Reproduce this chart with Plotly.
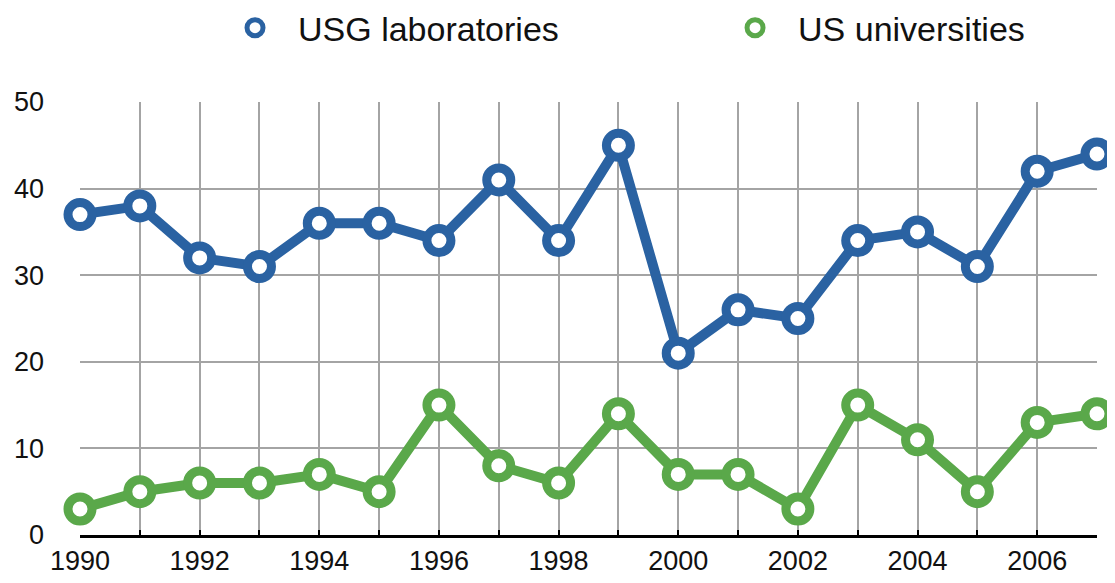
import plotly.graph_objects as go

years = list(range(1990, 2008))
year_labels = [str(y) if y % 2 == 0 else "" for y in years]
usg_labs = [37, 38, 32, 31, 36, 36, 34, 41, 34, 45, 21, 26, 25, 34, 35, 31, 42, 44]
us_univ = [3, 5, 6, 6, 7, 5, 15, 8, 6, 14, 7, 7, 3, 15, 11, 5, 13, 14]

blue = "#2a62a2"
green = "#5aa84a"
series = [("USG laboratories", usg_labs, blue, "legend"),
          ("US universities", us_univ, green, "legend2")]

fig = go.Figure()
for name, vals, col, lg in series:
    fig.add_trace(go.Scatter(x=years, y=vals, mode="lines", line=dict(color=col, width=10),
                             showlegend=False, cliponaxis=False, hoverinfo="skip"))
for name, vals, col, lg in series:
    fig.add_trace(go.Scatter(x=years, y=vals, mode="markers", name=name, legend=lg,
                             marker=dict(symbol="circle", size=24, color="white",
                                         line=dict(color=col, width=9)),
                             cliponaxis=False))

# page body has an 8px margin, so the figure is a bit smaller than the window
leg = dict(orientation="h", xref="container", yref="container", xanchor="left",
           yanchor="middle", y=0.965, font=dict(size=34), itemwidth=76,
           bgcolor="rgba(0,0,0,0)")
fig.update_layout(
    width=1107, height=575,
    margin=dict(l=72, r=18, t=94, b=48),
    plot_bgcolor="white", paper_bgcolor="white",
    font=dict(family="Liberation Sans, Arial, sans-serif", size=27, color="#111"),
    legend=dict(leg, x=0.1843),
    legend2=dict(leg, x=0.636),
)
fig.update_xaxes(range=[1990, 2007], tickvals=years, ticktext=year_labels,
                 showgrid=True, gridcolor="#a4a4a4", gridwidth=2,
                 showline=True, linecolor="black", linewidth=3,
                 ticks="inside", ticklen=5, tickcolor="black", tickwidth=2,
                 zeroline=False, automargin=False)
fig.update_yaxes(range=[0, 50], dtick=10, showgrid=True, gridcolor="#a4a4a4", gridwidth=2,
                 zeroline=False, showline=False, ticks="", ticklabelstandoff=35,
                 automargin=False)

fig.write_html("out.html")
